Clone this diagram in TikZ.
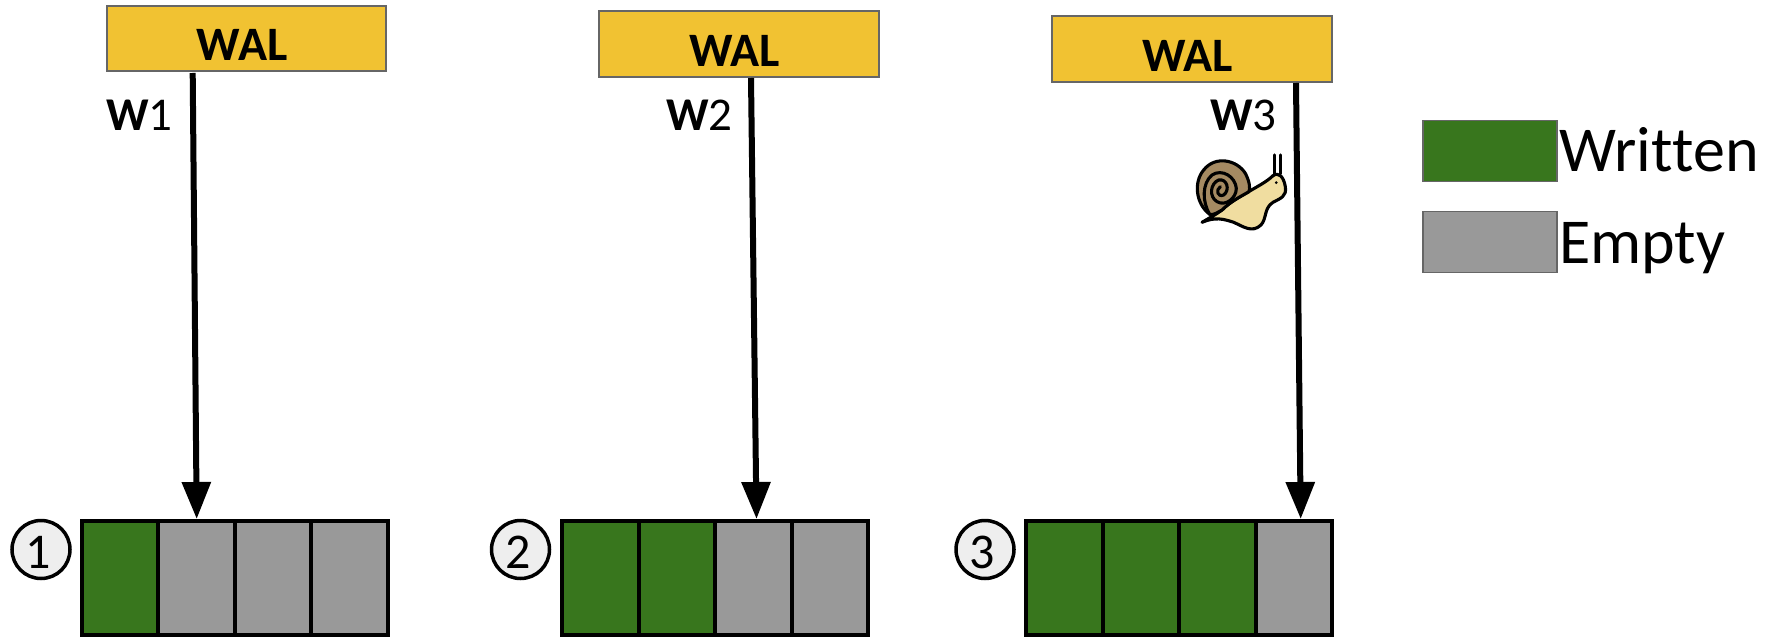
\documentclass[tikz,border=0pt]{standalone}
\usepackage{fontspec}
\setmainfont{Carlito}
\usetikzlibrary{arrows.meta}
\definecolor{walY}{HTML}{F1C232}
\definecolor{wrG}{HTML}{38761D}
\definecolor{emG}{HTML}{999999}
\definecolor{cirG}{HTML}{EEEEEE}
\definecolor{shellB}{HTML}{A58A62}
\definecolor{bodyY}{HTML}{F0DDA0}
\newcommand{\walword}{\kern-9bp WAL}
\tikzset{
  walbox/.style={draw=black!60,line width=2bp,fill=walY,minimum width=279.5bp,minimum height=65.5bp,inner sep=0pt,outer sep=0pt,text height=45bp,text depth=0bp,font=\fontsize{48bp}{52bp}\selectfont\bfseries},
  cellw/.style={draw=black,line width=4bp,fill=wrG,minimum width=76.5bp,minimum height=114.5bp,inner sep=0pt,outer sep=0pt},
  celle/.style={cellw,fill=emG},
  legbox/.style={draw=black!60,line width=1.6bp,minimum width=134.5bp,minimum height=61bp,inner sep=0pt,outer sep=0pt},
  stepcirc/.style={circle,draw=black,line width=3.5bp,fill=cirG,minimum size=58bp,inner sep=0pt,outer sep=0pt,text height=38bp,text depth=0bp,font=\fontsize{50bp}{54bp}\selectfont},
  wlabel/.style={anchor=base west,inner sep=0pt,font=\fontsize{47bp}{50bp}\selectfont},
  legtext/.style={anchor=base west,inner sep=0pt,font=\fontsize{64bp}{70bp}\selectfont},
  wire/.style={draw=black,line width=6bp,-{Triangle[length=37bp,width=28bp]}},
  snailline/.style={draw=black,line width=3.1bp,line join=round,line cap=round},
}
\begin{document}
\begin{tikzpicture}[x=1bp,y=-1bp]
\useasboundingbox (0,0) rectangle (1767,638);
% WAL boxes
\node[walbox] (wal1) at (246.7,38.5) {\walword};
\node[walbox] (wal2) at (739,44) {\walword};
\node[walbox] (wal3) at (1192,49) {\walword};
% rows
\foreach \r/\x/\a/\b/\c/\d in {1/81.7/cellw/celle/celle/celle,2/562/cellw/cellw/celle/celle,3/1026/cellw/cellw/cellw/celle}{
  \node[\a,anchor=north west] (r\r c1) at (\x,520.5) {};
  \node[\b,anchor=west] (r\r c2) at (r\r c1.east) {};
  \node[\c,anchor=west] (r\r c3) at (r\r c2.east) {};
  \node[\d,anchor=west] (r\r c4) at (r\r c3.east) {};
}
% circles
\node[stepcirc] (n1) at (41,549.5) {\kern-5bp 1};
\node[stepcirc] (n2) at (520.5,549.5) {\kern-5bp 2};
\node[stepcirc] (n3) at (985,549.5) {\kern-5bp 3};
% arrows
\coordinate (s1) at (192.7,73);
\coordinate (t1) at (196.7,519);
\coordinate (s2) at (751,78);
\coordinate (t2) at (756.5,519);
\coordinate (s3) at (1296,83);
\coordinate (t3) at (1300.7,519);
\draw[wire] (s1) -- (t1);
\draw[wire] (s2) -- (t2);
\draw[wire] (s3) -- (t3);
% labels
\node[wlabel] (w1) at (106,131) {\textbf{W}1};
\node[wlabel] (w2) at (666,131) {\textbf{W}2};
\node[wlabel] (w3) at (1210,131) {\textbf{W}3};
% legend
\node[legbox,fill=wrG] (lg) at (1490,151) {};
\node[legbox,fill=emG] (le) at (1490,242) {};
\node[legtext] (lgt) at (1559,172) {Writ\kern0pt ten};
\node[legtext] (let) at (1559,264) {Empty};
% snail
\begin{scope}[shift={(1187,145)},x=0.3333bp,y=-0.3333bp]
\draw[snailline] (262,30) -- (262,92) (280,30) -- (280,86);
\draw[snailline,fill=bodyY] (45,232) .. controls (85,215) and (110,222) .. (140,232)
  .. controls (170,245) and (195,265) .. (222,240)
  .. controls (240,220) and (230,190) .. (258,172)
  .. controls (280,160) and (300,155) .. (295,125)
  .. controls (290,95) and (275,80) .. (258,92)
  .. controls (240,110) and (210,125) .. (185,140)
  .. controls (160,155) and (130,170) .. (105,195)
  .. controls (85,210) and (65,220) .. (45,232) -- cycle;
\draw[snailline,fill=shellB] (68,208) .. controls (25,175) and (20,110) .. (50,75)
  .. controls (85,30) and (150,45) .. (175,85)
  .. controls (188,110) and (190,130) .. (186,140)
  .. controls (160,155) and (130,170) .. (105,195)
  .. controls (95,200) and (80,212) .. (68,208) -- cycle;
\draw[snailline] (68,208) .. controls (45,170) and (45,115) .. (75,90)
  .. controls (105,70) and (145,95) .. (148,130)
  .. controls (148,160) and (115,185) .. (90,170)
  .. controls (65,155) and (70,115) .. (95,105)
  .. controls (120,100) and (130,135) .. (110,150)
  .. controls (92,158) and (85,135) .. (100,125);
\fill (268,113) circle (4.5);
\end{scope}
\end{tikzpicture}
\end{document}
